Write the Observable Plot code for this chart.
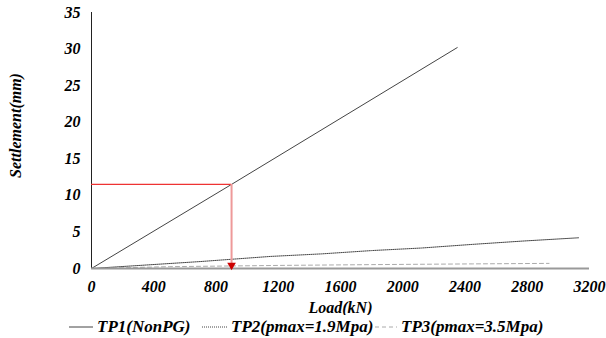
<!DOCTYPE html>
<html>
<head>
<meta charset="utf-8">
<script src="https://cdn.jsdelivr.net/npm/d3@7"></script>
<script src="https://cdn.jsdelivr.net/npm/@observablehq/plot@0.6"></script>
<style>
  html, body { margin: 0; padding: 0; background: #fff; }
  #wrap { width: 606px; font-family: "Liberation Serif", "Times New Roman", serif; font-weight: bold; font-style: italic; }
  #legend { position: relative; width: 606px; height: 23px; font-size: 17px; color: #000; }
  .item { position: absolute; top: 0; height: 23px; display: flex; align-items: center; white-space: nowrap; }
  .item svg { margin-right: 4px; }
</style>
</head>
<body>
<div id="wrap"></div>
<script>
// Data
const tp1Load = [0, 900, 2350];
const tp1Settle = [0, 11.5, 30.2];
const tp2Load = [0, 700, 1150, 1480, 1800, 2120, 2450, 2770, 3130];
const tp2Settle = [0, 0.95, 1.65, 2.0, 2.45, 2.8, 3.3, 3.75, 4.2];
const tp3Load = [0, 500, 1200, 1800, 2450, 2940];
const tp3Settle = [0, 0.25, 0.42, 0.53, 0.63, 0.7];
const seriesNames = ["TP1(NonPG)", "TP2(pmax=1.9Mpa)", "TP3(pmax=3.5Mpa)"];
const xTicks = [0, 400, 800, 1200, 1600, 2000, 2400, 2800, 3200];
const yTicks = [0, 5, 10, 15, 20, 25, 30, 35];
const xTitle = "Load(kN)";
const yTitle = "Settlement(mm)";
const markLoad = 900;
const markSettle = 11.5;

const tp1 = tp1Load.map((x, i) => ({x, y: tp1Settle[i]}));
const tp2 = tp2Load.map((x, i) => ({x, y: tp2Settle[i]}));
const tp3 = tp3Load.map((x, i) => ({x, y: tp3Settle[i]}));

const styles = [
  {stroke: "#444", strokeWidth: 1, strokeDasharray: null},
  {stroke: "#444", strokeWidth: 1, strokeDasharray: "1,1"},
  {stroke: "#aaa", strokeWidth: 1, strokeDasharray: "4,3"}
];

const chart = Plot.plot({
  width: 606,
  height: 315,
  marginLeft: 91,
  marginRight: 17,
  marginTop: 12,
  marginBottom: 47,
  style: {fontFamily: "'Liberation Serif', 'Times New Roman', serif", fontSize: "16px", fontWeight: "bold", fontStyle: "italic", color: "#000", background: "#fff"},
  x: {domain: [0, 3200]},
  y: {domain: [0, 35]},
  marks: [
    Plot.axisX({ticks: xTicks, tickSize: 0, tickPadding: 12, tickFormat: d => String(d), label: null}),
    Plot.axisY({ticks: yTicks, tickSize: 0, tickPadding: 11, tickFormat: d => String(d), label: null}),
    Plot.text([xTitle], {frameAnchor: "bottom", textAnchor: "middle", lineAnchor: "middle", text: d => d, dy: 39, fontSize: 16}),
    Plot.text([yTitle], {frameAnchor: "left", textAnchor: "middle", lineAnchor: "middle", text: d => d, rotate: -90, dx: -76, dy: -15, fontSize: 16}),
    Plot.line(tp3, {x: "x", y: "y", ...styles[2]}),
    Plot.line(tp2, {x: "x", y: "y", ...styles[1]}),
    Plot.line(tp1, {x: "x", y: "y", ...styles[0]}),
    Plot.ruleX([0], {y1: 0, y2: 35, stroke: "#222", strokeWidth: 1}),
    Plot.ruleY([0], {x1: 0, x2: 3200, stroke: "#999", strokeWidth: 2}),
    Plot.ruleY([markSettle], {x1: 0, x2: markLoad, stroke: "#e33", strokeWidth: 1.3}),
    Plot.ruleX([markLoad], {y1: markSettle, y2: 0.4, stroke: "#e99", strokeWidth: 2}),
    Plot.dot([markLoad], {x: d => d, y: 0.45, symbol: "triangle", rotate: 180, r: 3.2, fill: "#c00", stroke: "none"})
  ]
});

const wrap = document.getElementById("wrap");
wrap.appendChild(chart);

const legend = document.createElement("div");
legend.id = "legend";
const lefts = [69, 202, 375];
const lineW = [24, 25, 22];
seriesNames.forEach((name, i) => {
  const item = document.createElement("div");
  item.className = "item";
  item.style.left = lefts[i] + "px";
  const s = styles[i];
  item.innerHTML = `<svg width="${lineW[i]}" height="4"><line x1="0" x2="${lineW[i]}" y1="2" y2="2" stroke="${s.stroke}" stroke-width="${s.strokeWidth}" ${s.strokeDasharray ? `stroke-dasharray="${s.strokeDasharray}"` : ""}/></svg><span>${name}</span>`;
  legend.appendChild(item);
});
wrap.appendChild(legend);
</script>
</body>
</html>
